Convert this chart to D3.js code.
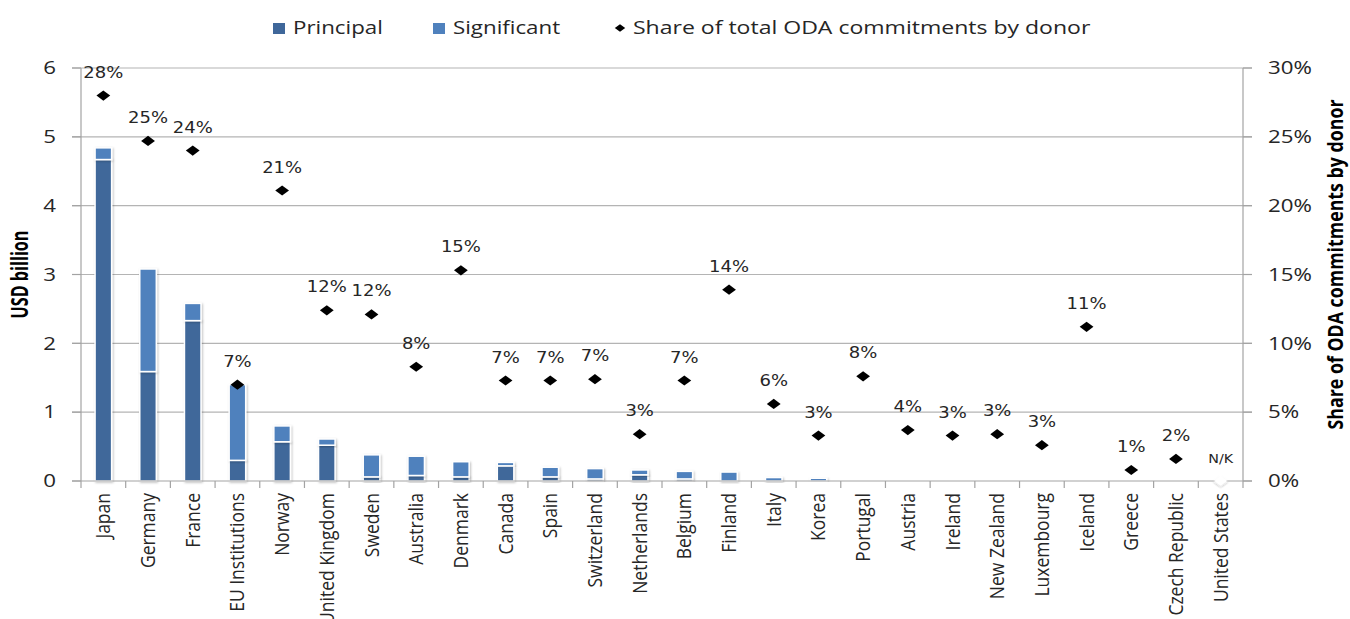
<!DOCTYPE html>
<html>
<head>
<meta charset="utf-8">
<script src="https://cdn.jsdelivr.net/npm/d3@7"></script>
<style>
  body { margin: 0; background: #fff; }
  svg { display: block; }
</style>
</head>
<body>
<svg id="chart" width="1350" height="619"></svg>
<script>
const donors = ["Japan", "Germany", "France", "EU Institutions", "Norway", "United Kingdom", "Sweden",
  "Australia", "Denmark", "Canada", "Spain", "Switzerland", "Netherlands", "Belgium", "Finland", "Italy",
  "Korea", "Portugal", "Austria", "Ireland", "New Zealand", "Luxembourg", "Iceland", "Greece",
  "Czech Republic", "United States"];
// USD billion
const principal = [4.67, 1.59, 2.33, 0.30, 0.57, 0.52, 0.06, 0.08, 0.06, 0.22, 0.06, 0.03, 0.09, 0.03,
  0, 0, 0, 0, 0, 0, 0, 0, 0, 0, 0, 0];
const significant = [0.17, 1.49, 0.25, 1.10, 0.23, 0.09, 0.32, 0.28, 0.22, 0.05, 0.14, 0.15, 0.07, 0.11,
  0.13, 0.05, 0.04, 0, 0, 0, 0, 0, 0, 0, 0, 0];
// share of total ODA commitments by donor (null = not known)
const share = [0.280, 0.247, 0.240, 0.070, 0.211, 0.124, 0.121, 0.083, 0.153, 0.073, 0.073, 0.074, 0.034,
  0.073, 0.139, 0.056, 0.033, 0.076, 0.037, 0.033, 0.034, 0.026, 0.112, 0.008, 0.016, null];
const leftTicks = [0, 1, 2, 3, 4, 5, 6];
const rightTicks = [0, 0.05, 0.10, 0.15, 0.20, 0.25, 0.30];
const seriesNames = ["Principal", "Significant", "Share of total ODA commitments by donor"];

const colors = { principal: "#3f679a", significant: "#4f81bd" };
const textColor = "#262626";
const sx = 1.24; // horizontal stretch of the original text

const svg = d3.select("#chart");
const margin = { top: 68, right: 107, bottom: 138, left: 81 };
const W = +svg.attr("width"), H = +svg.attr("height");
const x0 = margin.left, x1 = W - margin.right, yTop = margin.top, yBot = H - margin.bottom;

const x = d3.scaleBand().domain(donors).range([x0, x1]).padding(0);
const y = d3.scaleLinear().domain([0, 6]).range([yBot, yTop]);
const yR = d3.scaleLinear().domain([0, 0.30]).range([yBot, yTop]);

const defs = svg.append("defs");
const f = defs.append("filter").attr("id", "shadow").attr("x", "-30%").attr("y", "-30%")
  .attr("width", "160%").attr("height", "160%");
f.append("feDropShadow").attr("dx", 1).attr("dy", 1).attr("stdDeviation", 1)
  .attr("flood-color", "#000").attr("flood-opacity", 0.25);

// gridlines
svg.append("g").selectAll("line").data(leftTicks.filter(d => d > 0)).join("line")
  .attr("x1", x0 - 9).attr("x2", x1 + 9)
  .attr("y1", d => y(d)).attr("y2", d => y(d))
  .attr("stroke", "#b4b4b4").attr("stroke-width", 1.2);

// stacked bars
const rows = donors.map((d, i) => ({ donor: d, principal: principal[i], significant: significant[i] }));
const stack = d3.stack().keys(["principal", "significant"])(rows);
const bw = x.bandwidth() * 0.37;

svg.append("g").selectAll("g").data(stack).join("g")
  .attr("fill", s => colors[s.key])
  .selectAll("rect").data(s => s).join("rect")
  .attr("x", d => x(d.data.donor) + (x.bandwidth() - bw) / 2)
  .attr("width", bw)
  .attr("y", d => y(d[1]))
  .attr("height", d => Math.max(0, y(d[0]) - y(d[1])))
  .attr("stroke", "#fff").attr("stroke-width", 1.5)
  .attr("filter", "url(#shadow)");

// axes lines
const axisColor = "#a3a3a3";
const ax = svg.append("g").attr("stroke", axisColor).attr("stroke-width", 1.2);
ax.append("line").attr("x1", x0).attr("x2", x0).attr("y1", yTop).attr("y2", yBot);
ax.append("line").attr("x1", x1).attr("x2", x1).attr("y1", yTop).attr("y2", yBot);
ax.append("line").attr("x1", x0 - 9).attr("x2", x1 + 9).attr("y1", yBot).attr("y2", yBot);
ax.selectAll(".tl").data(leftTicks).join("line").attr("class", "tl")
  .attr("x1", x0 - 9).attr("x2", x0).attr("y1", d => y(d)).attr("y2", d => y(d));
ax.selectAll(".tr").data(rightTicks).join("line").attr("class", "tr")
  .attr("x1", x1).attr("x2", x1 + 9).attr("y1", d => yR(d)).attr("y2", d => yR(d));
ax.selectAll(".tb").data(donors.map(d => x(d)).concat([x1])).join("line").attr("class", "tb")
  .attr("x1", d => d).attr("x2", d => d).attr("y1", yBot).attr("y2", yBot + 7);

// tick labels
const tickFont = "'Open Sans', 'Liberation Sans', sans-serif";
svg.append("g").selectAll("text").data(leftTicks).join("text")
  .attr("transform", d => `translate(${x0 - 25},${y(d)}) scale(${sx},1)`)
  .attr("text-anchor", "end").attr("dy", "0.35em")
  .attr("font-family", tickFont).attr("font-size", 18).attr("fill", textColor)
  .text(d => d);
svg.append("g").selectAll("text").data(rightTicks).join("text")
  .attr("transform", d => `translate(${x1 + 25},${yR(d)}) scale(${sx},1)`)
  .attr("text-anchor", "start").attr("dy", "0.35em")
  .attr("font-family", tickFont).attr("font-size", 18).attr("fill", textColor)
  .text(d3.format(".0%"));

// category labels
svg.append("g").selectAll("text").data(donors).join("text")
  .attr("transform", d => `translate(${x(d) + x.bandwidth() / 2},${yBot + 12}) rotate(-90) scale(1,1.15)`)
  .attr("text-anchor", "end").attr("dy", "0.35em")
  .attr("font-family", tickFont).attr("font-size", 17.5).attr("fill", textColor)
  .text(d => d);

// axis titles
const titleFont = "'Liberation Sans Narrow', 'Open Sans', sans-serif";
svg.append("text")
  .attr("transform", `translate(20,${(yTop + yBot) / 2}) rotate(-90) scale(1,${sx})`)
  .attr("text-anchor", "middle").attr("dy", "0.35em")
  .attr("font-family", titleFont).attr("font-weight", "bold").attr("font-size", 18)
  .attr("textLength", 88).attr("lengthAdjust", "spacingAndGlyphs")
  .attr("fill", "#000").text("USD billion");
svg.append("text")
  .attr("transform", `translate(1336,${(yTop + yBot) / 2 - 10}) rotate(-90) scale(1,1.15)`)
  .attr("text-anchor", "middle").attr("dy", "0.35em")
  .attr("font-family", titleFont).attr("font-weight", "bold").attr("font-size", 18)
  .attr("textLength", 330).attr("lengthAdjust", "spacingAndGlyphs")
  .attr("fill", "#000").text("Share of ODA commitments by donor");

// diamonds + labels
const diamond = d3.symbol().type(d3.symbolSquare).size(52);
const pts = donors.map((d, i) => ({ donor: d, v: share[i] }));
const mk = svg.append("g");
mk.selectAll("path").data(pts).join("path")
  .attr("d", diamond)
  .attr("transform", d => `translate(${x(d.donor) + x.bandwidth() / 2},${yR(d.v ?? 0)}) scale(1.35,1) rotate(45)`)
  .attr("fill", d => d.v == null ? "#fff" : "#000")
  .attr("filter", d => d.v == null ? "url(#shadow)" : null);

const pct = d3.format(".0%");
mk.selectAll("text").data(pts).join("text")
  .attr("transform", d => `translate(${x(d.donor) + x.bandwidth() / 2},${yR(d.v ?? 0) - 18}) scale(${d.v == null ? 1.1 : 1.2},1)`)
  .attr("text-anchor", "middle")
  .attr("font-family", "'DejaVu Sans', Verdana, sans-serif")
  .attr("font-size", d => d.v == null ? 13 : 15)
  .attr("fill", textColor)
  .text(d => d.v == null ? "N/K" : pct(d.v));

// legend
const lg = svg.append("g").attr("font-family", tickFont).attr("font-size", 18).attr("fill", textColor);
const legendItems = [
  { name: seriesNames[0], type: "rect", color: colors.principal, x: 273 },
  { name: seriesNames[1], type: "rect", color: colors.significant, x: 433 },
  { name: seriesNames[2], type: "diamond", color: "#000", x: 614 }
];
const li = lg.selectAll("g").data(legendItems).join("g")
  .attr("transform", d => `translate(${d.x},28)`);
li.filter(d => d.type === "rect").append("rect")
  .attr("x", 0).attr("y", -5).attr("width", 12).attr("height", 11).attr("fill", d => d.color);
li.filter(d => d.type === "diamond").append("path")
  .attr("d", d3.symbol().type(d3.symbolSquare).size(30))
  .attr("transform", "translate(6,0) scale(1.35,1) rotate(45)").attr("fill", "#000");
li.append("text")
  .attr("transform", d => `translate(${d.type === "rect" ? 20 : 19},0) scale(${d.type === "rect" ? sx : 1.28},1)`)
  .attr("dy", "0.35em").text(d => d.name);
</script>
</body>
</html>
